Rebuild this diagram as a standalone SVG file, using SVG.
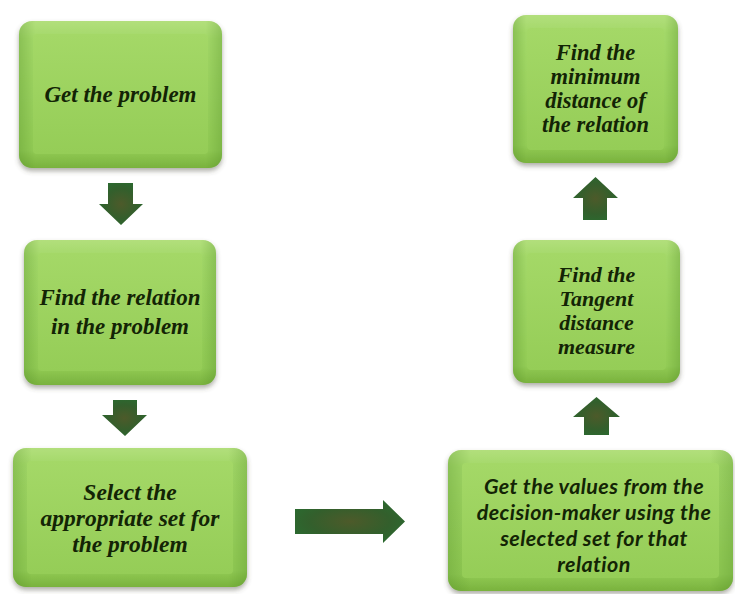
<svg xmlns="http://www.w3.org/2000/svg" width="735" height="594" viewBox="0 0 735 594">
  <defs>
    <linearGradient id="gV" x1="0" y1="0" x2="0" y2="1">
      <stop offset="0" stop-color="#B2DF7C"/>
      <stop offset="0.12" stop-color="#A3D868"/>
      <stop offset="0.88" stop-color="#92CB55"/>
      <stop offset="1" stop-color="#79B23D"/>
    </linearGradient>
    <linearGradient id="gH" x1="0" y1="0" x2="1" y2="0">
      <stop offset="0" stop-color="#3E7A18" stop-opacity="0.25"/>
      <stop offset="0.08" stop-color="#3E7A18" stop-opacity="0"/>
      <stop offset="0.92" stop-color="#3E7A18" stop-opacity="0"/>
      <stop offset="1" stop-color="#3E7A18" stop-opacity="0.25"/>
    </linearGradient>
    <linearGradient id="gIn" x1="0" y1="0" x2="0" y2="1">
      <stop offset="0" stop-color="#A4D867"/>
      <stop offset="1" stop-color="#95CD57"/>
    </linearGradient>
    <radialGradient id="gArrow" cx="0.5" cy="0.5" r="0.6">
      <stop offset="0" stop-color="#4D5A2A"/>
      <stop offset="0.6" stop-color="#335F2C"/>
      <stop offset="1" stop-color="#2A6B30"/>
    </radialGradient>
    <filter id="shadow" x="-10%" y="-10%" width="120%" height="125%">
      <feDropShadow dx="0" dy="3" stdDeviation="2.5" flood-color="#4a4a3a" flood-opacity="0.45"/>
    </filter>
  </defs>
  <style>
    .outer { fill: url(#gV); filter: url(#shadow); }
    .edge { fill: url(#gH); }
    .inner { fill: url(#gIn); }
    .arrow { fill: url(#gArrow); }
    .serif { font-family: "Liberation Serif", "Times New Roman", serif; font-weight: bold; font-style: italic; fill: #132405; text-anchor: middle; }
    .sans { font-family: Lato, "Liberation Sans", sans-serif; font-weight: bold; font-style: italic; fill: #132405; text-anchor: middle; letter-spacing: 0.4px; }
  </style>
  <rect width="735" height="594" fill="#FFFFFF"/>

  <g id="connectors">
    <path class="arrow" d="M108,183 H133 V204 H143 L121,225 L99,204 H108 Z"/>
    <path class="arrow" d="M113,400 H137 V415 H147 L125,436 L102,415 H113 Z"/>
    <path class="arrow" d="M295,509 H383 V500 L405,521.5 L383,543 V534 H295 Z"/>
    <path class="arrow" d="M584,435 V417 H573 L596.5,397 L620,417 H609 V435 Z"/>
    <path class="arrow" d="M583,220 V198 H573 L595.5,177 L618,198 H607 V220 Z"/>
  </g>

  <g id="node-get-problem">
    <rect class="outer" x="19" y="21" width="203" height="147" rx="13"/>
    <rect class="edge" x="19" y="21" width="203" height="147" rx="13"/>
    <rect class="inner" x="33" y="34" width="175" height="120" rx="4"/>
    <text class="serif" x="120.5" y="102" font-size="23">Get the problem</text>
  </g>

  <g id="node-find-relation">
    <rect class="outer" x="24" y="240" width="192" height="145" rx="13"/>
    <rect class="edge" x="24" y="240" width="192" height="145" rx="13"/>
    <rect class="inner" x="38" y="253" width="164" height="118" rx="4"/>
    <text class="serif" x="120" y="305" font-size="23">Find the relation</text>
    <text class="serif" x="120" y="334" font-size="23">in the problem</text>
  </g>

  <g id="node-select-set">
    <rect class="outer" x="13" y="448" width="234" height="139" rx="13"/>
    <rect class="edge" x="13" y="448" width="234" height="139" rx="13"/>
    <rect class="inner" x="27" y="461" width="206" height="113" rx="4"/>
    <text class="serif" x="130" y="500" font-size="23.5">Select the</text>
    <text class="serif" x="130" y="526" font-size="23.5">appropriate set for</text>
    <text class="serif" x="130" y="552" font-size="23.5">the problem</text>
  </g>

  <g id="node-get-values">
    <rect class="outer" x="448" y="450" width="285" height="141" rx="13"/>
    <rect class="edge" x="448" y="450" width="285" height="141" rx="13"/>
    <rect class="inner" x="462" y="463" width="257" height="115" rx="4"/>
    <text class="sans" x="594" y="494" font-size="21.5">Get the values from the</text>
    <text class="sans" x="594" y="520" font-size="21.5">decision-maker using the</text>
    <text class="sans" x="594" y="546" font-size="21.5">selected set for that</text>
    <text class="sans" x="594" y="572" font-size="21.5">relation</text>
  </g>

  <g id="node-tangent">
    <rect class="outer" x="513" y="240" width="167" height="143" rx="13"/>
    <rect class="edge" x="513" y="240" width="167" height="143" rx="13"/>
    <rect class="inner" x="527" y="253" width="139" height="117" rx="4"/>
    <text class="serif" x="596.5" y="282" font-size="22">Find the</text>
    <text class="serif" x="596.5" y="306" font-size="22">Tangent</text>
    <text class="serif" x="596.5" y="330" font-size="22">distance</text>
    <text class="serif" x="596.5" y="354" font-size="22">measure</text>
  </g>

  <g id="node-min-distance">
    <rect class="outer" x="513" y="15" width="165" height="148" rx="13"/>
    <rect class="edge" x="513" y="15" width="165" height="148" rx="13"/>
    <rect class="inner" x="527" y="28" width="137" height="122" rx="4"/>
    <text class="serif" x="595.5" y="60" font-size="22.5">Find the</text>
    <text class="serif" x="595.5" y="84" font-size="22.5">minimum</text>
    <text class="serif" x="595.5" y="108" font-size="22.5">distance of</text>
    <text class="serif" x="595.5" y="132" font-size="22.5">the relation</text>
  </g>
</svg>
